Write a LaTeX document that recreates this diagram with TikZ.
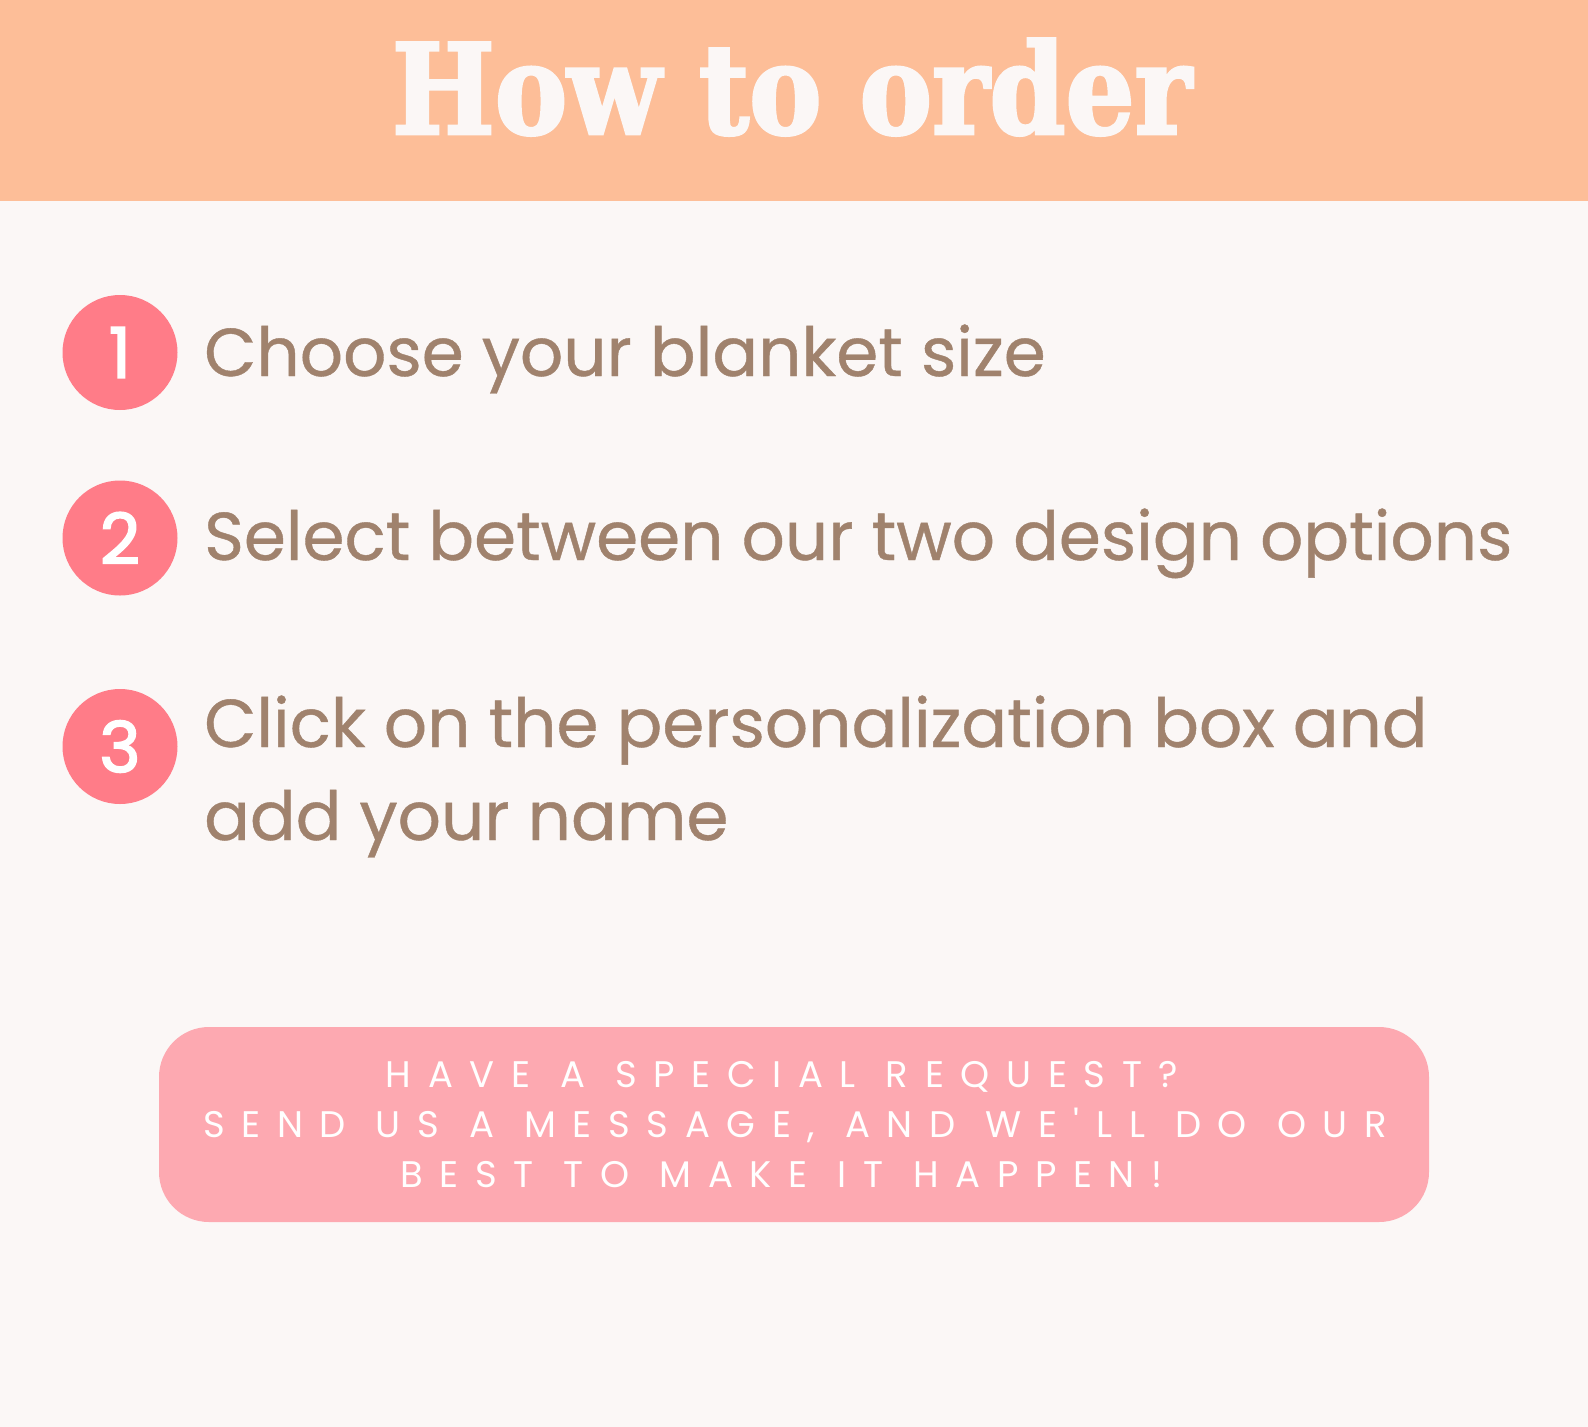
\documentclass[tikz,border=0pt]{standalone}
\usepackage{fontspec}
\usepackage{graphicx}
\setmainfont{Poppins}[FakeBold=0.6]
\newfontfamily\titlefont{DejaVu Serif}[FakeBold=2.5]
\newfontfamily\numfont{Poppins}[FakeBold=2.4]
\newfontfamily\capsfont{Poppins}[LetterSpace=45]
\newcommand\widerspaces{\spaceskip=\dimexpr\fontdimen2\font+3.5pt\relax}
\definecolor{bgcol}{HTML}{FBF7F6}
\definecolor{headcol}{HTML}{FDBE98}
\definecolor{circcol}{HTML}{FF7C88}
\definecolor{txtcol}{HTML}{A0826D}
\definecolor{boxcol}{HTML}{FDA9B1}
\tikzset{
  numcirc/.style={circle, fill=circcol, minimum size=115pt, inner sep=0pt,
    text=white, font=\numfont\fontsize{70}{70}\selectfont},
  steptext/.style={anchor=base west, inner sep=0pt, text=txtcol,
    font=\fontsize{67.7}{67.7}\selectfont},
  notebox/.style={fill=boxcol, rounded corners=50pt, minimum width=1270pt,
    minimum height=195pt, inner sep=0pt},
  notetext/.style={anchor=base, inner sep=0pt, text=white,
    font=\capsfont\fontsize{37}{37}\selectfont}
}
\begin{document}
\begin{tikzpicture}[x=1pt,y=-1pt]
\useasboundingbox (0,0) rectangle (1588,1427);
\fill[bgcol] (0,0) rectangle (1588,1427);
\fill[headcol] (0,0) rectangle (1588,201);
\node[anchor=base, inner sep=0pt, text=bgcol] (title) at (792,133.7)
  {\resizebox{800pt}{\height}{\titlefont\bfseries\fontsize{125}{125}\selectfont How to order}};

\node[numcirc] (c1) at (120,352.5) {1};
\node[numcirc] (c2) at (120,538) {2};
\node[numcirc] (c3) at (120,746.5) {3};

\node[steptext] (t1) at (204,376) {Choose your blanket size};
\node[steptext] (t2) at (204,560) {Select between our two design options};
\node[steptext] (t3a) at (204,747) {Click on the personalization box and};
\node[steptext] (t3b) at (204,840) {add your name};

\node[notebox] (box) at (794,1124.5) {};
\node[notetext] (n1) at (782,1087) {\widerspaces HAVE A SPECIAL REQUEST?};
\node[notetext] (n2) at (795,1137) {\widerspaces SEND US A MESSAGE, AND WE'LL DO OUR};
\node[notetext] (n3) at (781.5,1187) {\widerspaces BEST TO MAKE IT HAPPEN!};
\end{tikzpicture}
\end{document}
